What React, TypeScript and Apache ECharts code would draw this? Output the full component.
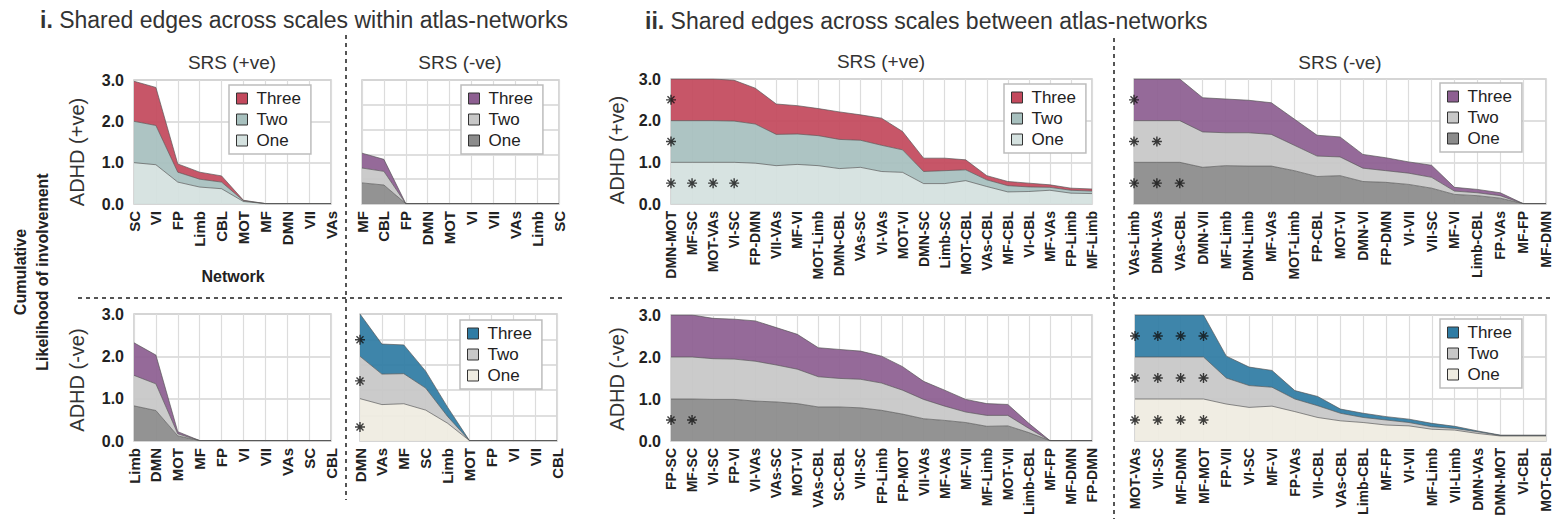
import React, { useEffect, useRef } from 'react';
import * as echarts from 'echarts';

const FONT = '"Liberation Sans", Arial, Helvetica, sans-serif';

// ---------- Data ----------
// Panel 1: within atlas, SRS (+ve) / ADHD (+ve)
const p1Cats = ['SC', 'VI', 'FP', 'Limb', 'CBL', 'MOT', 'MF', 'DMN', 'VII', 'VAs'];
const p1One = [1.0, 0.95, 0.53, 0.41, 0.37, 0.06, 0.01, 0.01, 0.01, 0.01];
const p1Two = [1.0, 0.95, 0.24, 0.19, 0.16, 0.02, 0, 0, 0, 0];
const p1Three = [0.97, 0.92, 0.2, 0.17, 0.15, 0.01, 0, 0, 0, 0];

// Panel 2: within atlas, SRS (-ve) / ADHD (+ve)
const p2Cats = ['MF', 'CBL', 'FP', 'DMN', 'MOT', 'VI', 'VII', 'VAs', 'Limb', 'SC'];
const p2One = [0.51, 0.46, 0.01, 0.01, 0.01, 0.01, 0.01, 0.01, 0.01, 0.01];
const p2Two = [0.36, 0.33, 0, 0, 0, 0, 0, 0, 0, 0];
const p2Three = [0.36, 0.29, 0, 0, 0, 0, 0, 0, 0, 0];

// Panel 3: within atlas, SRS (+ve) / ADHD (-ve)
const p3Cats = ['Limb', 'DMN', 'MOT', 'MF', 'FP', 'VI', 'VII', 'VAs', 'SC', 'CBL'];
const p3One = [0.83, 0.72, 0.12, 0.01, 0.01, 0.01, 0.01, 0.01, 0.01, 0.01];
const p3Two = [0.72, 0.63, 0.05, 0, 0, 0, 0, 0, 0, 0];
const p3Three = [0.77, 0.68, 0.05, 0, 0, 0, 0, 0, 0, 0];

// Panel 4: within atlas, SRS (-ve) / ADHD (-ve)
const p4Cats = ['DMN', 'VAs', 'MF', 'SC', 'Limb', 'MOT', 'FP', 'VI', 'VII', 'CBL'];
const p4One = [1.0, 0.86, 0.88, 0.73, 0.42, 0.01, 0.01, 0.01, 0.01, 0.01];
const p4Two = [1.0, 0.72, 0.71, 0.52, 0.16, 0, 0, 0, 0, 0];
const p4Three = [1.0, 0.71, 0.68, 0.4, 0.22, 0, 0, 0, 0, 0];
const p4Stars = [[0, 2.39], [0, 1.42], [0, 0.33]];

// Panel 5: between atlas, SRS (+ve) / ADHD (+ve)
const p5Cats = ['DMN-MOT', 'MF-SC', 'MOT-VAs', 'VI-SC', 'FP-DMN', 'VII-VAs', 'MF-VI', 'MOT-Limb', 'DMN-CBL', 'VAs-SC', 'VI-VAs', 'MOT-VI', 'DMN-SC', 'Limb-SC', 'MOT-CBL', 'VAs-CBL', 'MF-CBL', 'VI-CBL', 'MF-VAs', 'FP-Limb', 'MF-Limb'];
const p5One = [1, 1, 1, 1.0, 0.98, 0.92, 0.95, 0.92, 0.85, 0.88, 0.78, 0.76, 0.49, 0.49, 0.56, 0.42, 0.29, 0.3, 0.33, 0.26, 0.25];
const p5Two = [1, 1, 1, 0.99, 0.94, 0.75, 0.73, 0.72, 0.7, 0.65, 0.63, 0.54, 0.29, 0.31, 0.26, 0.16, 0.15, 0.11, 0.07, 0.07, 0.06];
const p5Three = [1, 1, 1, 0.98, 0.86, 0.73, 0.68, 0.65, 0.66, 0.61, 0.65, 0.44, 0.32, 0.3, 0.24, 0.1, 0.1, 0.09, 0.06, 0.05, 0.05];
const p5Stars = [[0, 2.5], [0, 1.5], [0, 0.5], [1, 0.5], [2, 0.5], [3, 0.5]];

// Panel 6: between atlas, SRS (-ve) / ADHD (+ve)
const p6Cats = ['VAs-Limb', 'DMN-VAs', 'VAs-CBL', 'DMN-VII', 'MF-Limb', 'DMN-Limb', 'MF-VAs', 'MOT-Limb', 'FP-CBL', 'MOT-VI', 'DMN-VI', 'FP-DMN', 'VI-VII', 'VII-SC', 'MF-VI', 'Limb-CBL', 'FP-VAs', 'MF-FP', 'MF-DMN'];
const p6One = [1, 1, 1, 0.88, 0.92, 0.91, 0.91, 0.8, 0.66, 0.68, 0.54, 0.52, 0.47, 0.38, 0.23, 0.2, 0.14, 0.01, 0.01];
const p6Two = [1, 1, 1, 0.85, 0.79, 0.8, 0.76, 0.61, 0.49, 0.45, 0.32, 0.28, 0.27, 0.26, 0.08, 0.07, 0.06, 0, 0];
const p6Three = [1, 1, 1, 0.82, 0.81, 0.78, 0.76, 0.63, 0.5, 0.48, 0.33, 0.31, 0.27, 0.29, 0.09, 0.08, 0.07, 0, 0];
const p6Stars = [[0, 2.5], [0, 1.5], [0, 0.5], [1, 1.5], [1, 0.5], [2, 0.5]];

// Panel 7: between atlas, SRS (+ve) / ADHD (-ve)
const p7Cats = ['FP-SC', 'MF-SC', 'VI-SC', 'FP-VI', 'VI-VAs', 'VAs-SC', 'MOT-VI', 'VAs-CBL', 'SC-CBL', 'VII-SC', 'FP-Limb', 'FP-MOT', 'VII-VAs', 'MF-VAs', 'MF-VII', 'MF-Limb', 'MOT-VII', 'Limb-CBL', 'MF-FP', 'MF-DMN', 'FP-DMN'];
const p7One = [1, 1, 0.99, 0.99, 0.95, 0.93, 0.89, 0.81, 0.81, 0.79, 0.73, 0.64, 0.53, 0.49, 0.44, 0.35, 0.36, 0.2, 0.01, 0.01, 0.01];
const p7Two = [1, 1, 0.97, 0.96, 0.95, 0.88, 0.82, 0.72, 0.68, 0.68, 0.65, 0.57, 0.46, 0.34, 0.25, 0.26, 0.25, 0.1, 0, 0, 0];
const p7Three = [1, 1, 0.96, 0.95, 0.96, 0.89, 0.83, 0.69, 0.69, 0.67, 0.64, 0.56, 0.43, 0.38, 0.3, 0.28, 0.26, 0.12, 0, 0, 0];
const p7Stars = [[0, 0.5], [1, 0.5]];

// Panel 8: between atlas, SRS (-ve) / ADHD (-ve)
const p8Cats = ['MOT-VAs', 'VII-SC', 'MF-DMN', 'MF-MOT', 'FP-VII', 'VI-SC', 'MF-VI', 'FP-VAs', 'VII-CBL', 'VAs-CBL', 'Limb-CBL', 'MF-FP', 'VI-VII', 'MF-Limb', 'VII-Limb', 'DMN-VAs', 'DMN-MOT', 'VI-CBL', 'MOT-CBL'];
const p8One = [1, 1, 1, 1, 0.88, 0.8, 0.83, 0.7, 0.56, 0.48, 0.44, 0.38, 0.36, 0.28, 0.26, 0.18, 0.12, 0.12, 0.12];
const p8Two = [1, 1, 1, 1, 0.62, 0.52, 0.45, 0.3, 0.28, 0.18, 0.12, 0.12, 0.08, 0.06, 0.04, 0.04, 0.01, 0.01, 0.01];
const p8Three = [1, 1, 1, 1, 0.52, 0.44, 0.4, 0.2, 0.22, 0.1, 0.1, 0.08, 0.08, 0.08, 0.05, 0.02, 0.01, 0.01, 0.01];
const p8Stars = [[0, 2.5], [1, 2.5], [2, 2.5], [3, 2.5], [0, 1.5], [1, 1.5], [2, 1.5], [3, 1.5], [0, 0.5], [1, 0.5], [2, 0.5], [3, 0.5]];

const layerNames = ['One', 'Two', 'Three'];

// ---------- Styles ----------
const RED = ['#d4e1df', '#a7c0be', '#c3495d'];
const PURPLE = ['#8b8b8b', '#c7c7c7', '#8d5f91'];
const BLUE = ['#efece1', '#c7c7c7', '#2f7ca4'];

const STAR = 'path://M5,0L5,10M0,5L10,5M1.5,1.5L8.5,8.5M1.5,8.5L8.5,1.5';

type Panel = {
  cats: string[];
  layers: number[][];
  colors: string[];
  box: [number, number, number, number];
  yInterval: number;
  showY: boolean;
  labelSize: number;
  legend?: [number, number];
  stars?: number[][];
};

const panels: Panel[] = [
  { cats: p1Cats, layers: [p1One, p1Two, p1Three], colors: RED, box: [134, 80, 197, 124], yInterval: 1, showY: true, labelSize: 15, legend: [229, 85] },
  { cats: p2Cats, layers: [p2One, p2Two, p2Three], colors: PURPLE, box: [362, 80, 197, 124], yInterval: 0.6, showY: false, labelSize: 15, legend: [461, 85] },
  { cats: p3Cats, layers: [p3One, p3Two, p3Three], colors: PURPLE, box: [134, 314, 197, 127], yInterval: 1, showY: true, labelSize: 15 },
  { cats: p4Cats, layers: [p4One, p4Two, p4Three], colors: BLUE, box: [360, 314, 197, 127], yInterval: 0.6, showY: false, labelSize: 15, legend: [460, 320], stars: p4Stars },
  { cats: p5Cats, layers: [p5One, p5Two, p5Three], colors: RED, box: [671, 79, 421, 125], yInterval: 1, showY: true, labelSize: 14, legend: [1004, 84], stars: p5Stars },
  { cats: p6Cats, layers: [p6One, p6Two, p6Three], colors: PURPLE, box: [1134, 79, 413, 125], yInterval: 1, showY: false, labelSize: 14, legend: [1440, 83], stars: p6Stars },
  { cats: p7Cats, layers: [p7One, p7Two, p7Three], colors: PURPLE, box: [671, 315, 421, 126], yInterval: 1, showY: true, labelSize: 14, stars: p7Stars },
  { cats: p8Cats, layers: [p8One, p8Two, p8Three], colors: BLUE, box: [1135, 315, 412, 126], yInterval: 1, showY: false, labelSize: 14, legend: [1440, 319], stars: p8Stars },
];

function buildOption() {
  const grid = panels.map((p) => ({
    left: p.box[0], top: p.box[1], width: p.box[2], height: p.box[3],
    show: true, borderColor: '#c9c9c9', borderWidth: 1.5, backgroundColor: 'transparent',
  }));
  const xAxis = panels.map((p, i) => ({
    type: 'category', gridIndex: i, data: p.cats, boundaryGap: false,
    axisLine: { show: false }, axisTick: { show: false, interval: 0 },
    axisLabel: { interval: 0, rotate: 90, fontFamily: FONT, fontWeight: 'bold', fontSize: p.labelSize, color: '#222', margin: 7 },
    splitLine: { show: true, interval: 0, lineStyle: { color: '#dcdcdc', width: 1.2 } },
  }));
  const yAxis = panels.map((p, i) => ({
    type: 'value', gridIndex: i, min: 0, max: 3, interval: p.yInterval,
    axisLine: { show: false }, axisTick: { show: false },
    axisLabel: { show: p.showY, formatter: (v: number) => v.toFixed(1), fontFamily: FONT, fontWeight: 'bold', fontSize: 16, color: '#222', margin: 10 },
    splitLine: { show: true, lineStyle: { color: '#d4d4d4', width: 1.5 } },
  }));
  const series: any[] = [];
  panels.forEach((p, i) => {
    p.layers.forEach((vals, k) => {
      series.push({
        type: 'line', name: `${layerNames[k]}#${i}`, xAxisIndex: i, yAxisIndex: i, stack: `s${i}`,
        data: vals, symbol: 'none', showSymbol: false, silent: true, color: p.colors[k],
        itemStyle: { color: p.colors[k] },
        lineStyle: { color: '#555', width: 0.9, opacity: 0.75 },
        areaStyle: { color: p.colors[k], opacity: 0.93 },
        z: 2,
      });
    });
    if (p.stars) {
      series.push({
        type: 'scatter', xAxisIndex: i, yAxisIndex: i, data: p.stars, symbol: STAR, symbolSize: 10,
        itemStyle: { color: 'rgba(0,0,0,0)', borderColor: '#111', borderWidth: 1.4 }, silent: true, z: 5,
      });
    }
  });
  const legend = panels
    .map((p, i) => ({ p, i }))
    .filter(({ p }) => p.legend)
    .map(({ p, i }) => ({
      orient: 'vertical', left: p.legend![0], top: p.legend![1],
      data: [`Three#${i}`, `Two#${i}`, `One#${i}`],
      formatter: (n: string) => n.split('#')[0],
      icon: 'rect', itemWidth: 11, itemHeight: 11, itemGap: 4,
      padding: [5, 10, 5, 7], borderColor: '#bdbdbd', borderWidth: 1.5, backgroundColor: '#fff',
      selectedMode: false,
      textStyle: { fontFamily: FONT, fontSize: 17, color: '#222', lineHeight: 17, padding: [0, 0, 0, 4] },
      itemStyle: { borderColor: '#333', borderWidth: 1 },
    }));

  const txt = (text: string, x: number, y: number, size: number, opts: any = {}) => ({
    type: 'text', x, y, rotation: opts.rotation || 0, silent: true,
    style: {
      text, fontFamily: FONT, fontSize: size, fontWeight: opts.bold ? 'bold' : 'normal', fill: opts.fill || '#333',
      align: opts.align || 'center', verticalAlign: 'middle', rich: opts.rich,
    },
  });
  const dash = (x1: number, y1: number, x2: number, y2: number) => ({
    type: 'line', silent: true, shape: { x1, y1, x2, y2 },
    style: { stroke: '#555', lineWidth: 2, lineDash: [4, 4] },
  });
  const richB = { b: { fontFamily: FONT, fontSize: 23, fontWeight: 'bold', fill: '#333' } };
  const graphic = [
    txt('{b|i.} Shared edges across scales within atlas-networks', 40, 20, 23, { align: 'left', rich: richB }),
    txt('{b|ii.} Shared edges across scales between atlas-networks', 645, 21, 23, { align: 'left', rich: richB }),
    txt('SRS (+ve)', 232, 62, 19),
    txt('SRS (-ve)', 460, 62, 19),
    txt('SRS (+ve)', 881, 61, 19),
    txt('SRS (-ve)', 1340, 62, 19),
    txt('ADHD (+ve)', 77, 152, 20, { rotation: Math.PI / 2 }),
    txt('ADHD (-ve)', 77, 380, 20, { rotation: Math.PI / 2 }),
    txt('ADHD (+ve)', 617, 150, 20, { rotation: Math.PI / 2 }),
    txt('ADHD (-ve)', 617, 379, 20, { rotation: Math.PI / 2 }),
    txt('Cumulative', 20, 272, 16, { rotation: Math.PI / 2, bold: true, fill: '#222' }),
    txt('Likelihood of involvement', 42, 272, 16, { rotation: Math.PI / 2, bold: true, fill: '#222' }),
    txt('Network', 233, 276, 16, { bold: true, fill: '#222' }),
    dash(346, 35, 346, 500),
    dash(78, 298, 566, 298),
    dash(1114, 38, 1114, 519),
    dash(610, 298, 1553, 298),
  ];

  return {
    animation: false,
    backgroundColor: '#fff',
    textStyle: { fontFamily: FONT },
    grid, xAxis, yAxis, series, legend, graphic,
  };
}

export default function App() {
  const ref = useRef<HTMLDivElement>(null);
  useEffect(() => {
    if (!ref.current) return;
    const chart = echarts.init(ref.current, undefined, { renderer: 'svg' });
    chart.setOption(buildOption() as any);
    return () => chart.dispose();
  }, []);
  return <div ref={ref} style={{ position: 'absolute', left: 0, top: 0, width: 1553, height: 519, background: '#fff' }} />;
}
